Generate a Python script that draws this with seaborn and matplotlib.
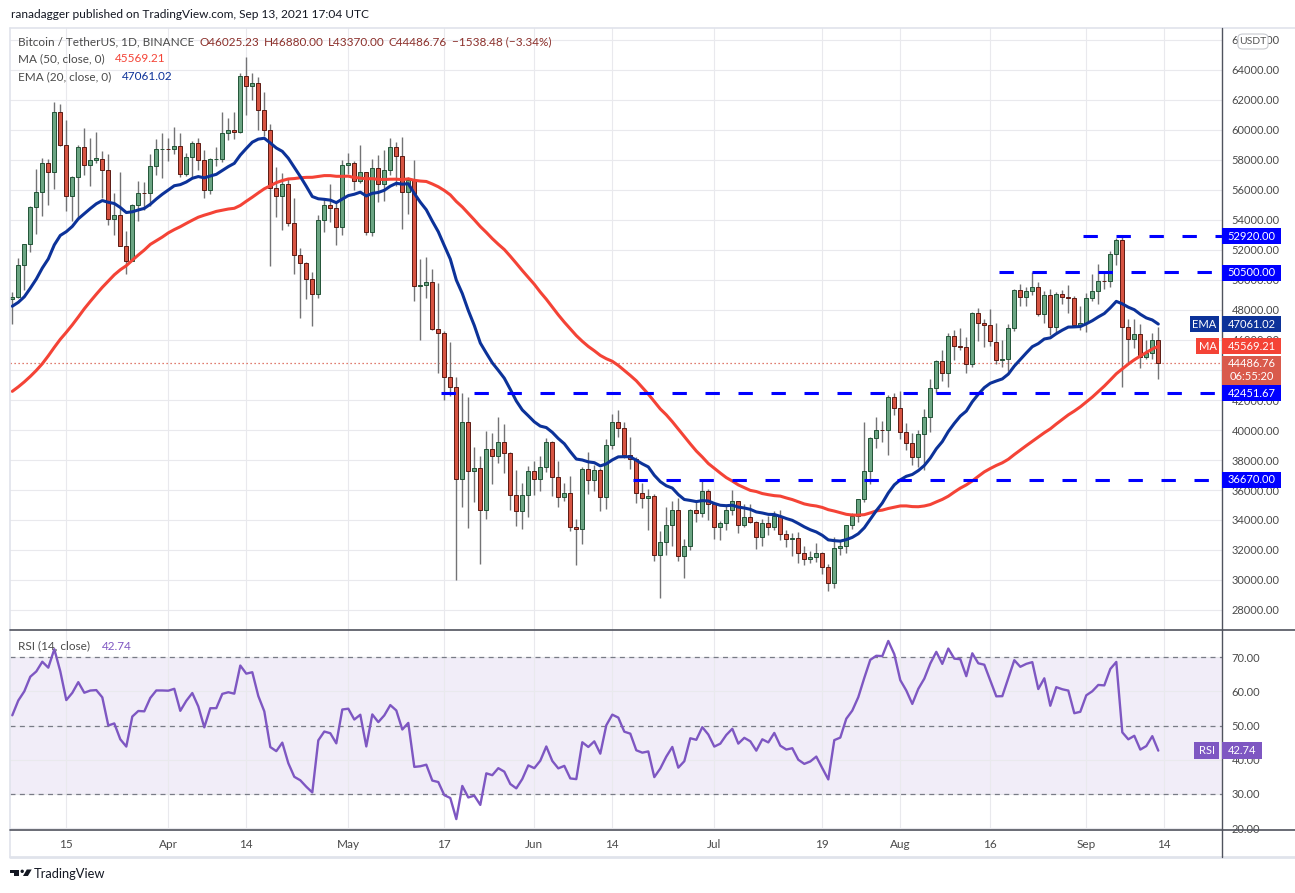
import numpy as np
import pandas as pd
import matplotlib
matplotlib.use("Agg")
import matplotlib.pyplot as plt
import matplotlib.patches as mpatches
from matplotlib.lines import Line2D
from matplotlib.ticker import FuncFormatter
import seaborn as sns

# ==========================================
# 1. DATA  (BTC/USDT daily, Binance)
# ==========================================
# closes before the visible window (Jan 15 - Mar 5), only to warm up MA / EMA / RSI
warmup_close = [
    36770, 36010, 35830, 36630, 35910, 35470, 30850, 32950, 32080, 32260, 32250, 32470,
    30370, 33400, 34270, 34320, 33110,
    33530, 35510, 37670, 36930, 38290, 39260, 38880, 46450, 46510, 44840, 47990, 47410,
    47190, 48580, 47930, 49150, 52120, 51550, 55910, 55890, 57410, 54120, 48890, 49680,
    47070, 46280, 46110, 45140,
    49590, 48440, 50350, 48370, 48760,
]

first_day = "2021-03-06"

opens = [
    # Mar
    48760, 48880, 50970, 52380, 54880, 55860, 57770, 57220, 61190, 58970, 55610, 56890, 58900,
    57650, 58030, 58100, 57350, 54080, 54340, 52300, 51300, 55030, 55820, 55780, 57630, 58740,
    # Apr
    58740, 58720, 58960, 57060, 58200, 59130, 57990, 56000, 58090, 58100, 59770, 59970, 59860,
    63580, 62960, 63160, 61330, 60000, 56150, 55630, 56430, 53790, 51690, 51120, 50050, 49070,
    53990, 55030, 54820, 53560,
    # May
    57690, 57800, 56580, 57170, 53200, 57440, 56400, 57360, 58870, 58240, 55850, 56700, 49600,
    49680, 49860, 46760, 46450, 43540, 42860, 36720, 40540, 37250, 37470, 34700, 38750, 38300,
    39220, 38470, 35650, 34580, 35650,
    # Jun
    37250, 36720, 37560, 39220, 36840, 35510, 35780, 33530, 33400, 37390, 36680, 37330, 35550,
    39020, 40520, 40150, 38350, 38090, 35820, 35480, 35600, 31680, 32510, 33680, 34660, 31600,
    32240, 34700, 34500, 35910,
    # Jul
    35040, 33540, 33830, 34680, 35290, 33690, 34220, 33860, 32880, 33810, 33510, 34260, 33090,
    32730, 32820, 31780, 31390, 31530, 31800, 30840, 29800, 32130, 32300, 33640, 34270, 35380,
    37250, 39460, 40020, 40000, 42210,
    # Aug
    41460, 39850, 39150, 38200, 39720, 40870, 42830, 44610, 43810, 46280, 45590, 45550, 44420,
    47830, 47110, 47010, 45900, 44700, 44720, 46770, 49340, 48870, 49290, 49530, 47710, 48990,
    46850, 49070, 48900, 48800, 46990,
    # Sep
    47130, 48810, 49250, 49940, 49910, 51760, 52660, 46860, 46060, 46400, 44850, 45160, 46025.23,
]

highs = [
    49200, 51450, 52400, 54900, 57400, 58150, 58050, 61850, 61700, 60650, 56950, 58980, 60100,
    59450, 59880, 58600, 58420, 55830, 57200, 53240, 55070, 56570, 56560, 58400, 59370, 59800,
    59460, 60200, 59790, 58490, 59250, 59480, 58650, 58150, 58870, 61220, 60790, 61200, 63780,
    64850, 63800, 63520, 62500, 60400, 57530, 57100, 56760, 55450, 52130, 51170, 50500, 54350,
    55460, 56430, 55200, 58000,
    58450, 57930, 58980, 57200, 58080, 58360, 58650, 59460, 59220, 59520, 56870, 57980, 51370,
    51540, 50700, 49800, 46600, 45880, 43560, 42450, 42200, 38850, 38270, 39920, 39800, 40850,
    40420, 38520, 37350, 36480, 37600,
    37930, 38250, 39480, 39300, 37920, 36450, 36920, 34070, 37530, 38550, 37680, 37450, 39380,
    41060, 41330, 40530, 39560, 38200, 36460, 36100, 35750, 33300, 34880, 35300, 35500, 32730,
    34750, 35300, 36600, 36100,
    35040, 33940, 34950, 35970, 35290, 35060, 35060, 33920, 34100, 34260, 34600, 34680, 33340,
    33110, 33190, 32250, 31950, 32440, 31900, 31060, 32860, 32580, 33650, 34500, 35400, 40550,
    39540, 40900, 40620, 42320, 42450,
    42600, 40460, 39780, 39970, 41420, 43390, 44700, 45310, 46460, 46700, 46780, 46220, 47900,
    48150, 47370, 48050, 47160, 46000, 47050, 49380, 49760, 49520, 50500, 49880, 49250, 49370,
    49200, 49310, 49640, 48900, 48250,
    49120, 50420, 51040, 50560, 51900, 52780, 52920, 47380, 47400, 47040, 45980, 46460, 46880.00,
]

lows = [
    47070, 48800, 49300, 51850, 53050, 54270, 55000, 56080, 58950, 54600, 53950, 54120, 57000,
    56270, 57820, 55450, 53650, 53000, 52270, 50430, 51250, 53960, 54690, 54900, 57000, 56770,
    57930, 58430, 56880, 56960, 56790, 57330, 55470, 55700, 57630, 57870, 59350, 59370, 59780,
    61000, 62020, 60000, 59580, 50930, 54220, 53330, 53600, 50400, 47500, 48750, 46930, 48780,
    53220, 53880, 52330, 53010,
    57050, 56000, 56480, 53000, 52900, 55200, 55240, 56980, 56250, 53400, 54370, 48600, 46000,
    48800, 46650, 43830, 42000, 42250, 30000, 34850, 33500, 35200, 31100, 34050, 36420, 37800,
    37150, 34650, 33630, 33400, 34200,
    35650, 35950, 37200, 35600, 34850, 35250, 33300, 31000, 32400, 35750, 35940, 34600, 34760,
    38730, 39510, 38120, 37370, 35130, 34820, 33340, 31250, 28800, 31680, 32300, 31280, 30150,
    32000, 33860, 34230, 34000,
    32710, 32700, 33320, 34360, 33130, 33530, 33770, 32080, 32260, 33020, 33310, 32660, 32200,
    31600, 31130, 31020, 31160, 31220, 30410, 29280, 29480, 31700, 31800, 33400, 33880, 35220,
    36400, 38770, 39200, 38320, 41000,
    39420, 38690, 37640, 37510, 37330, 39860, 42450, 43260, 42850, 44660, 45340, 43770, 44200,
    45960, 45520, 45620, 44380, 44200, 43930, 46630, 48280, 48250, 49030, 47600, 47140, 46320,
    46370, 48370, 47770, 46860, 46700,
    46510, 48630, 48380, 49410, 49500, 50970, 42840, 44410, 45500, 44130, 44730, 44740, 43370.00,
]

closes = [
    48880, 50970, 52380, 54880, 55860, 57770, 57220, 61190, 58970, 55610, 56890, 58900, 57650,
    58030, 58100, 57350, 54080, 54340, 52300, 51300, 55030, 55820, 55780, 57630, 58740, 58740,
    58720, 58960, 57060, 58200, 59130, 57990, 56000, 58090, 58100, 59770, 59970, 59860, 63580,
    62960, 63160, 61330, 60000, 56150, 55630, 56430, 53790, 51690, 51120, 50050, 49070, 53990,
    55030, 54820, 53560, 57690,
    57800, 56580, 57170, 53200, 57440, 56400, 57360, 58870, 58240, 55850, 56700, 49600, 49680,
    49860, 46760, 46450, 43540, 42860, 36720, 40540, 37250, 37470, 34700, 38750, 38300, 39220,
    38470, 35650, 34580, 35650, 37250,
    36720, 37560, 39220, 36840, 35510, 35780, 33530, 33400, 37390, 36680, 37330, 35550, 39020,
    40520, 40150, 38350, 38090, 35820, 35480, 35600, 31680, 32510, 33680, 34660, 31600, 32240,
    34700, 34500, 35910, 35040,
    33540, 33830, 34680, 35290, 33690, 34220, 33860, 32880, 33810, 33510, 34260, 33090, 32730,
    32820, 31780, 31390, 31530, 31800, 30840, 29800, 32130, 32300, 33640, 34270, 35380, 37250,
    39460, 40020, 40000, 42210, 41460,
    39850, 39150, 38200, 39720, 40870, 42830, 44610, 43810, 46280, 45590, 45550, 44420, 47830,
    47110, 47010, 45900, 44700, 44720, 46770, 49340, 48870, 49290, 49530, 47710, 48990, 46850,
    49070, 48900, 48800, 46990, 47130,
    48810, 49250, 49940, 49910, 51760, 52660, 46860, 46060, 46400, 44850, 45160, 46025.23, 44486.76,
]

# horizontal levels drawn by the author
levels = [52920.00, 50500.00, 42451.67, 36670.00]
level_from = ["2021-09-01", "2021-08-18", "2021-05-17", "2021-06-18"]

tick_days = ["2021-03-15", "2021-04-01", "2021-04-14", "2021-05-01", "2021-05-17", "2021-06-01",
             "2021-06-14", "2021-07-01", "2021-07-19", "2021-08-01", "2021-08-16", "2021-09-01",
             "2021-09-14"]
tick_labels = ["15", "Apr", "14", "May", "17", "Jun", "14", "Jul", "19", "Aug", "16", "Sep", "14"]

ma_last, ema_last, rsi_last = 45569.21, 47061.02, 42.74
countdown = "06:55:20"

# ==========================================
# 2. INDICATORS
# ==========================================
n = len(closes)
day0 = pd.Timestamp(first_day)
x = np.arange(n)
o, h, l, c = map(np.asarray, (opens, highs, lows, closes))

allc = pd.Series(warmup_close + closes, dtype=float)
ma50 = allc.rolling(50).mean().to_numpy()[-n:]
ema20 = allc.ewm(span=20, adjust=False).mean().to_numpy()[-n:]
diff = allc.diff()
gain = diff.clip(lower=0).ewm(alpha=1 / 14, adjust=False).mean()
loss = (-diff.clip(upper=0)).ewm(alpha=1 / 14, adjust=False).mean()
rsi = (100 - 100 / (1 + gain / loss)).to_numpy()[-n:]

def day_index(d):
    return (pd.Timestamp(d) - day0).days

# ==========================================
# 3. FIGURE
# ==========================================
sns.set_theme(style="white")
plt.rcParams["font.family"] = ["Lato", "DejaVu Sans"]

W, H = 1295, 893
fig = plt.figure(figsize=(W / 100, H / 100), dpi=100)

def fx(px):
    return px / W

def fy(py):
    return 1 - py / H

UP, UP_EDGE = "#6ba583", "#225437"
DN, DN_EDGE = "#d75442", "#5b1a13"
WICK = "#737375"
LEVEL = "#0000ff"
EMA_C, MA_C, RSI_C = "#0c3299", "#f44336", "#7e57c2"
TXT = "#4a4a4a"
GRID = "#e9e9ed"

ax = fig.add_axes([fx(10), fy(630), (1222 - 10) / W, (630 - 28) / H])
axr = fig.add_axes([fx(10), fy(829), (1222 - 10) / W, (829 - 630) / H])

xlim = (-2.3 / 6, -2.3 / 6 + 1212 / 6)
tick_pos = [day_index(d) for d in tick_days]

for a in (ax, axr):
    a.set_xlim(*xlim)
    a.set_xticks(tick_pos)
    a.grid(True, color=GRID, lw=0.8)
    a.set_axisbelow(True)
    a.yaxis.tick_right()
    a.tick_params(axis="y", length=0, pad=7, labelsize=8, labelcolor=TXT)
    for s in a.spines.values():
        s.set_visible(False)

# --- price pane ---
ax.set_ylim(28000 - 20 * 2000 / 30, 64000 + 42 * 2000 / 30)
ax.set_yticks(np.arange(28000, 66001, 2000))
# the 44000 label sits fully under the live-price tag, as on the original
ax.yaxis.set_major_formatter(FuncFormatter(lambda v, p: "" if v == 44000 else f"{v:.2f}"))
ax.tick_params(axis="x", length=0, labelbottom=False)

up = c >= o
ax.vlines(x, l, h, color=WICK, lw=1, zorder=2)
ax.bar(x[up], (c - o)[up], bottom=o[up], width=0.72, color=UP, edgecolor=UP_EDGE, lw=0.7, zorder=3)
ax.bar(x[~up], (c - o)[~up], bottom=o[~up], width=0.72, color=DN, edgecolor=DN_EDGE, lw=0.7, zorder=3)

sns.lineplot(x=x, y=ma50, ax=ax, color=MA_C, lw=2.2, zorder=4, legend=False)
sns.lineplot(x=x, y=ema20, ax=ax, color=EMA_C, lw=2.2, zorder=4, legend=False)

for lv, d in zip(levels, level_from):
    ax.hlines(lv, day_index(d) - 0.5, xlim[1], colors=LEVEL, lw=2.2,
              linestyles=[(0, (4.7, 6.1))], zorder=5)

ax.axhline(closes[-1], color=DN, lw=0.9, ls=(0, (1, 2.2)), zorder=1)
ax.set_xlabel("")
ax.set_ylabel("")

# --- RSI pane ---
axr.set_ylim(30 - 35 / 3.4175, 70 + 27.3 / 3.4175)
axr.set_yticks([20, 30, 40, 50, 60, 70])
axr.yaxis.set_major_formatter(FuncFormatter(lambda v, p: f"{v:.2f}"))
axr.set_xticklabels(tick_labels)
axr.tick_params(axis="x", length=0, pad=7, labelsize=8.5, labelcolor=TXT)
axr.axhspan(30, 70, color=RSI_C, alpha=0.1, lw=0, zorder=0)
for v in (70, 50, 30):
    axr.axhline(v, color="#787b86", lw=0.9, ls=(0, (4, 3.5)), zorder=1)
sns.lineplot(x=x, y=rsi, ax=axr, color=RSI_C, lw=1.7, zorder=3, legend=False)
axr.set_xlabel("")
axr.set_ylabel("")

# ==========================================
# 4. FRAME, TAGS, HEADER
# ==========================================
def fline(x0, y0, x1, y1, color, lw):
    fig.add_artist(Line2D([fx(x0), fx(x1)], [fy(y0), fy(y1)], transform=fig.transFigure,
                          color=color, lw=lw, zorder=6))

fline(9.5, 28, 1294.5, 28, "#e0e3eb", 1.2)
fline(9.5, 28, 9.5, 857, "#e0e3eb", 1.2)
fline(9.5, 857, 1294.5, 857, "#e0e3eb", 2)
fline(9.5, 630, 1294.5, 630, "#50535e", 1.2)
fline(9.5, 829.5, 1294.5, 829.5, "#50535e", 1.2)
fline(1221.5, 28, 1221.5, 857, "#50535e", 1)

def ypix(a, val):
    return H - a.transData.transform((0, val))[1]

def tag(py, text, fc, x0=1222, x1=1281, hgt=16, fs=8):
    fig.add_artist(mpatches.Rectangle((fx(x0), fy(py + hgt / 2)), (x1 - x0) / W, hgt / H,
                                      transform=fig.transFigure, fc=fc, ec="none", zorder=10))
    fig.text(fx((x0 + x1) / 2), fy(py), text, color="white", ha="center", va="center",
             fontsize=fs, zorder=11)

for lv in levels:
    tag(ypix(ax, lv), f"{lv:.2f}", LEVEL)

tag(ypix(ax, ema_last), f"{ema_last:.2f}", EMA_C)
tag(ypix(ax, ema_last), "EMA", EMA_C, x0=1190, x1=1219)
tag(ypix(ax, ma_last), f"{ma_last:.2f}", MA_C)
tag(ypix(ax, ma_last), "MA", MA_C, x0=1196, x1=1219)

py = ypix(ax, closes[-1])
fig.add_artist(mpatches.Rectangle((fx(1222), fy(py + 22)), 59 / W, 29 / H, transform=fig.transFigure,
                                  fc="#d95a4c", ec="none", zorder=10))
fig.text(fx(1251.5), fy(py + 1), f"{closes[-1]:.2f}", color="white", ha="center", va="center",
         fontsize=8, zorder=11)
fig.text(fx(1251.5), fy(py + 14), countdown, color="white", ha="center", va="center",
         fontsize=8, zorder=11)

pr = ypix(axr, rsi_last)
tag(pr, f"{rsi_last:.2f}", RSI_C, x0=1222, x1=1262, hgt=17)
tag(pr, "RSI", RSI_C, x0=1194, x1=1219, hgt=17)

fig.add_artist(mpatches.FancyBboxPatch((fx(1238), fy(49)), 30 / W, 15 / H,
                                       boxstyle="round,pad=0,rounding_size=0.004",
                                       transform=fig.transFigure, fc="white", ec="#c8cad0",
                                       lw=0.8, zorder=10))
fig.text(fx(1253), fy(41.5), "USDT", color="#555", ha="center", va="center", fontsize=7.5, zorder=11)

def ftext(px, py, s, color=TXT, fs=8.5, **kw):
    fig.text(fx(px), fy(py), s, color=color, fontsize=fs, va="center", ha="left", **kw)

ftext(11, 15, "ranadagger published on TradingView.com, Sep 13, 2021 17:04 UTC", color="#131722", fs=8.6)

OHLC_C = "#8b2f2a"
ftext(18, 42, "Bitcoin / TetherUS, 1D, BINANCE")
ftext(200, 42, "O46025.23", OHLC_C)
ftext(264, 42, "H46880.00", OHLC_C)
ftext(328, 42, "L43370.00", OHLC_C)
ftext(389, 42, "C44486.76", OHLC_C)
ftext(452, 42, "\u22121538.48 (\u22123.34%)", OHLC_C)
ftext(18, 59, "MA (50, close, 0)")
ftext(115, 59, f"{ma_last:.2f}", MA_C)
ftext(18, 76.5, "EMA (20, close, 0)")
ftext(122, 76.5, f"{ema_last:.2f}", EMA_C)
ftext(18, 646, "RSI (14, close)")
ftext(102, 646, f"{rsi_last:.2f}", RSI_C)

# TradingView logo + name
LOGO = "#131722"
def fpoly(pts):
    fig.add_artist(mpatches.Polygon([(fx(a), fy(b)) for a, b in pts], closed=True,
                                    transform=fig.transFigure, fc=LOGO, ec="none", zorder=10))

fpoly([(10, 869.5), (19.3, 869.5), (19.3, 876), (14.5, 876), (14.5, 873), (10, 873)])
fpoly([(23, 876), (26.8, 869.5), (31.7, 869.5), (27.9, 876)])
fig.add_artist(mpatches.Ellipse((fx(22.2), fy(871.3)), 3.4 / W, 3.4 / H, transform=fig.transFigure,
                                fc=LOGO, ec="none", zorder=10))
ftext(33.5, 874.5, "TradingView", color=LOGO, fs=9.3)

fig.savefig("out.png", dpi=100)
